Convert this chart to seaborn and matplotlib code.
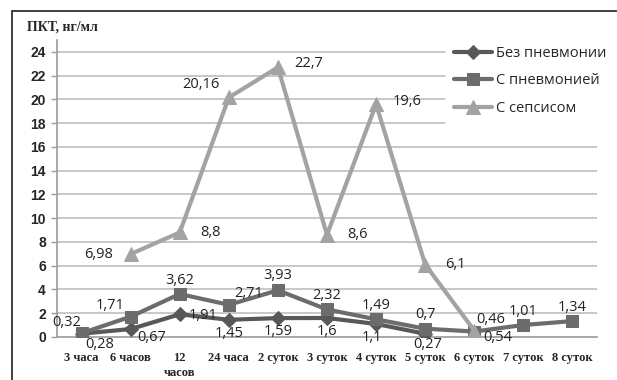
import numpy as np
import pandas as pd
import matplotlib
matplotlib.use('Agg')
import matplotlib.pyplot as plt
from matplotlib.patches import Rectangle
import seaborn as sns

# Данные
categories = ['3 часа', '6 часов', '12\nчасов', '24 часа', '2 суток', '3 суток',
              '4 суток', '5 суток', '6 суток', '7 суток', '8 суток']
bez_pnevmonii = [0.28, 0.67, 1.91, 1.45, 1.59, 1.6, 1.1, 0.27, np.nan, np.nan, np.nan]
s_pnevmoniei = [0.32, 1.71, 3.62, 2.71, 3.93, 2.32, 1.49, 0.7, 0.46, 1.01, 1.34]
s_sepsisom = [np.nan, 6.98, 8.8, 20.16, 22.7, 8.6, 19.6, 6.1, 0.54, np.nan, np.nan]
y_ticks = list(range(0, 25, 2))

series = [
    ('Без пневмонии', bez_pnevmonii, '#585858', 'D', 7),
    ('С пневмонией', s_pnevmoniei, '#6c6c6c', 's', 9),
    ('С сепсисом', s_sepsisom, '#a3a3a3', '^', 9.5),
]

# смещения подписей (в пунктах) для каждой точки
label_offsets = {
    'Без пневмонии': [(13, -8), (15, -6), (17, -1), (0, -10), (0, -10), (0, -10),
                      (-3, -10), (2, -7.5), None, None, None],
    'С пневмонией': [(-11, 8), (-15, 8), (0, 10), (14, 8), (0, 11), (0, 10),
                     (0, 10), (0, 10), (12, 9), (0, 10), (0, 10)],
    'С сепсисом': [None, (-23, 0), (22, 0), (-20, 9), (22, 3), (22, 0),
                   (22, 2), (22, 0), (17, -5), None, None],
}


def fmt(v):
    return ('%g' % v).replace('.', ',')


sns.set_style('white')
plt.rcParams['font.family'] = ['Open Sans', 'DejaVu Sans']

fig = plt.figure(figsize=(6.17, 3.80), dpi=100)
ax = fig.add_axes([57 / 617, 43 / 380, 540 / 617, 297 / 380])

x = np.arange(len(categories))

# сетка (верхние линии обрезаны легендой, как в оригинале)
for yv in y_ticks[1:]:
    xmax = 0.718 if yv >= 18 else 1.0
    ax.axhline(yv, xmin=0, xmax=xmax, color='#c4c4c4', lw=1.3, zorder=0)

for name, vals, color, marker, ms in series:
    df = pd.DataFrame({'x': x, 'y': vals}).dropna()
    sns.lineplot(data=df, x='x', y='y', ax=ax, color=color, lw=3,
                 marker=marker, markersize=ms, markeredgecolor=color,
                 label=name, estimator=None, sort=False, zorder=3)
    for xi, v, off in zip(x, vals, label_offsets[name]):
        if off is None or np.isnan(v):
            continue
        ax.annotate(fmt(v), (xi, v), xytext=off, textcoords='offset points',
                    ha='center', va='center', fontsize=10.5, color='#222222',
                    zorder=5)

ax.set_xlim(-0.5, 10.5)
ax.set_ylim(0, 25)
ax.set_yticks(y_ticks)
ax.set_xticks(x)
ax.set_xticklabels(categories, fontsize=9, fontweight='bold',
                   family='Liberation Serif', linespacing=1.25)
ax.set_yticklabels([str(t) for t in y_ticks], fontsize=10, fontweight='bold',
                   family='Liberation Sans')
ax.set_xticks(np.arange(-0.5, 11, 1), minor=True)
ax.tick_params(axis='x', which='major', length=0, pad=11)
ax.tick_params(axis='x', which='minor', length=4, color='#9a9a9a', width=1)
ax.tick_params(axis='y', length=4, color='#9a9a9a', width=1, pad=4, left=True)
ax.set_xlabel('')
ax.set_ylabel('')

for s in ['top', 'right']:
    ax.spines[s].set_visible(False)
for s in ['left', 'bottom']:
    ax.spines[s].set_color('#9a9a9a')
    ax.spines[s].set_linewidth(1.2)

fig.text(27 / 617, 1 - 27 / 380, 'ПКТ, нг/мл', fontsize=10, fontweight='bold',
         family='Liberation Serif', va='center', ha='left')

leg = ax.legend(loc='upper left', bbox_to_anchor=(448 / 617, 1 - 40 / 380),
                bbox_transform=fig.transFigure, frameon=False, fontsize=10.5,
                handlelength=2.6, handletextpad=0.3, labelspacing=0.85,
                borderaxespad=0)

# рамка вокруг диаграммы
fig.patches.append(Rectangle((12 / 617, -0.1), 1.2, 1 - 11 / 380 + 0.1,
                             transform=fig.transFigure, fill=False,
                             edgecolor='#333333', lw=1.3))

plt.savefig('out.png', dpi=100)
